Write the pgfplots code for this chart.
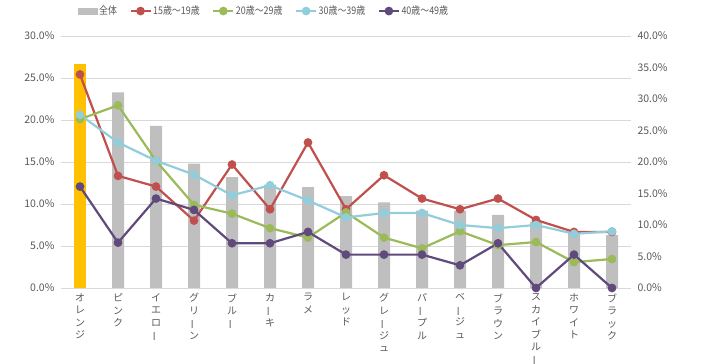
\documentclass[border=0pt]{standalone}
\usepackage{fontspec}
\setmainfont{Noto Sans CJK JP}
\newfontfamily\legfont[FakeStretch=0.85]{Noto Sans CJK JP}
\usepackage{pgfplots}
\pgfplotsset{compat=1.18}
\definecolor{cRed}{HTML}{C0504D}
\definecolor{cGreen}{HTML}{9BBB59}
\definecolor{cCyan}{HTML}{92CDDC}
\definecolor{cPurple}{HTML}{604A7B}
\definecolor{cBar}{HTML}{BFBFBF}
\definecolor{cOrange}{HTML}{FFC000}
\definecolor{cText}{HTML}{595959}
\definecolor{cGrid}{HTML}{D9D9D9}
\newcommand{\V}{\rotatebox[origin=c]{90}{ー}}
\pgfplotsset{
  lineser/.style={line width=2.2pt, mark=*, mark size=3.2pt, mark options={solid}},
  lineleg/.style={legend image code/.code={\draw[##1, mark=none] (0pt,0pt) -- (20pt,0pt); \draw[##1] plot coordinates {(10pt,0pt)};}},
}
\begin{document}
\begin{tikzpicture}
\path[use as bounding box] (0pt,0pt) rectangle (702pt,364pt);
\begin{axis}[
  at={(61pt,76pt)}, anchor=south west, scale only axis,
  width=570pt, height=252pt,
  xmin=-0.5, xmax=14.5, ymin=0, ymax=30,
  ytick={0,5,...,30},
  xtick={0,...,14},
  xticklabels={{オ\\レ\\ン\\ジ},{ピ\\ン\\ク},{イ\\エ\\ロ\\\V},{グ\\リ\\\V\\ン},{ブ\\ル\\\V},{カ\\\V\\キ},{ラ\\メ},{レ\\ッ\\ド},{グ\\レ\\\V\\ジ\\ュ},{パ\\\V\\プ\\ル},{ベ\\\V\\ジ\\ュ},{ブ\\ラ\\ウ\\ン},{ス\\カ\\イ\\ブ\\ル\\\V},{ホ\\ワ\\イ\\ト},{ブ\\ラ\\ッ\\ク}},
  xticklabel style={align=center, anchor=north, font=\fontsize{10}{12.5}\selectfont, text=cText, yshift=-2pt},
  yticklabel={\pgfmathprintnumber[fixed,fixed zerofill,precision=1]{\tick}\%},
  yticklabel style={font=\fontsize{10.5}{12}\selectfont, text=cText, xshift=-3pt},
  /pgf/number format/assume math mode=true,
  axis line style={draw=none},
  tick style={draw=none},
  ymajorgrids, major grid style={cGrid, line width=0.8pt},
]
\addplot[ybar, bar width=12pt, fill=cBar, draw=none] coordinates {
 (1,23.3) (2,19.3) (3,14.8) (4,13.2) (5,12.3) (6,12.0) (7,10.95) (8,10.2) (9,9.2) (10,9.2) (11,8.7) (12,7.9) (13,6.7) (14,6.3)};
\addplot[ybar, bar width=12pt, fill=cOrange, draw=none] coordinates {(0,26.7)};
\end{axis}
\begin{axis}[
  at={(61pt,76pt)}, anchor=south west, scale only axis,
  width=570pt, height=252pt,
  xmin=-0.5, xmax=14.5, ymin=0, ymax=40,
  axis y line*=right, axis x line=none,
  ytick={0,5,...,40}, xtick=\empty,
  yticklabel={\pgfmathprintnumber[fixed,fixed zerofill,precision=1]{\tick}\%},
  yticklabel style={font=\fontsize{10.5}{12}\selectfont, text=cText, xshift=3pt},
  /pgf/number format/assume math mode=true,
  axis line style={draw=none},
  tick style={draw=none},
  legend columns=5,
  legend style={at={(0.0298,1.099)}, anchor=west, draw=none, fill=none, inner sep=0pt,
    font=\legfont\fontsize{10.5}{12}\selectfont, text=cText,
    /tikz/every even column/.append style={column sep=11pt},
    nodes={inner sep=1.5pt}},
]
\addlegendimage{legend image code/.code={\fill[cBar] (0pt,-3pt) rectangle (19pt,3pt);}}
\addlegendentry{全体}
\addplot[lineser, lineleg, color=cRed] coordinates {
 (0,33.9) (1,17.8) (2,16.1) (3,10.7) (4,19.6) (5,12.5) (6,23.1) (7,12.5) (8,17.9) (9,14.2) (10,12.5) (11,14.2) (12,10.8) (13,8.9) (14,8.9)};
\addlegendentry{15歳〜19歳}
\addplot[lineser, lineleg, color=cGreen] coordinates {
 (0,26.8) (1,29.0) (2,20.2) (3,13.2) (4,11.8) (5,9.5) (6,8.0) (7,12.0) (8,8.0) (9,6.3) (10,9.0) (11,6.8) (12,7.3) (13,4.1) (14,4.6)};
\addlegendentry{20歳〜29歳}
\addplot[lineser, lineleg, color=cCyan] coordinates {
 (0,27.5) (1,23.1) (2,20.2) (3,18.0) (4,14.7) (5,16.3) (6,13.9) (7,11.2) (8,11.9) (9,11.9) (10,10.0) (11,9.5) (12,10.0) (13,8.6) (14,9.0)};
\addlegendentry{30歳〜39歳}
\addplot[lineser, lineleg, color=cPurple] coordinates {
 (0,16.1) (1,7.2) (2,14.2) (3,12.4) (4,7.1) (5,7.1) (6,8.9) (7,5.3) (8,5.3) (9,5.3) (10,3.6) (11,7.1) (12,0) (13,5.3) (14,0)};
\addlegendentry{40歳〜49歳}
\end{axis}
\end{tikzpicture}
\end{document}
